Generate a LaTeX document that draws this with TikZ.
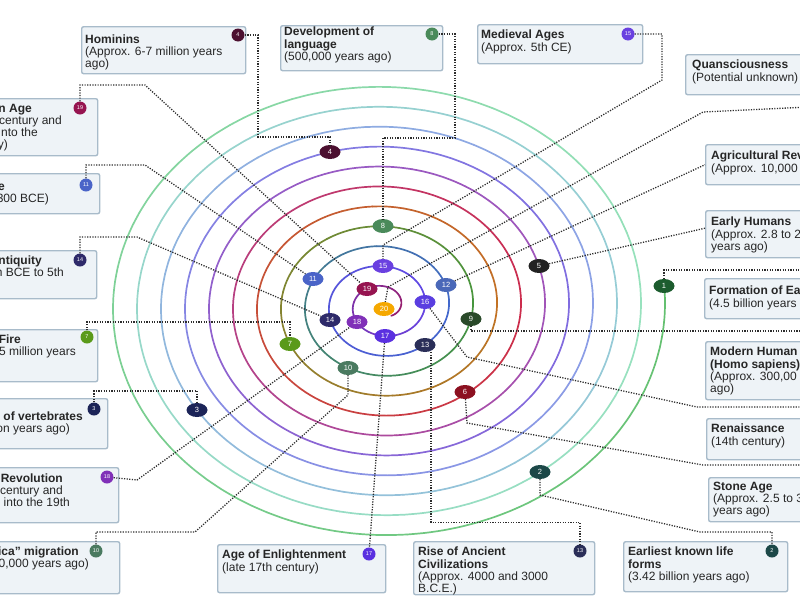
\documentclass[tikz,border=0pt]{standalone}
\usepackage{fontspec}
\setmainfont{Liberation Sans}
\usetikzlibrary{shapes.geometric,calc}
\definecolor{cardfill}{RGB}{238,243,247}
\definecolor{cardline}{RGB}{168,187,202}
\definecolor{linkc}{RGB}{45,45,45}
\definecolor{r0}{RGB}{100,192,112}
\definecolor{r1}{RGB}{152,226,190}
\definecolor{r2}{RGB}{150,204,214}
\definecolor{r3}{RGB}{140,160,230}
\definecolor{r4}{RGB}{128,108,224}
\definecolor{r5}{RGB}{162,84,184}
\definecolor{r6}{RGB}{204,44,76}
\definecolor{r7}{RGB}{194,114,36}
\definecolor{r8}{RGB}{70,150,62}
\definecolor{r9}{RGB}{66,104,204}
\definecolor{r10}{RGB}{100,70,230}
\definecolor{r11}{RGB}{150,30,110}
\definecolor{c1}{RGB}{28,92,46}
\definecolor{c2}{RGB}{28,72,72}
\definecolor{c3}{RGB}{28,36,88}
\definecolor{c4}{RGB}{76,16,48}
\definecolor{c5}{RGB}{34,34,34}
\definecolor{c6}{RGB}{140,16,32}
\definecolor{c7}{RGB}{90,154,26}
\definecolor{c8}{RGB}{74,138,90}
\definecolor{c9}{RGB}{42,74,42}
\definecolor{c10}{RGB}{74,122,96}
\definecolor{c11}{RGB}{74,100,200}
\definecolor{c12}{RGB}{74,104,184}
\definecolor{c13}{RGB}{42,46,88}
\definecolor{c14}{RGB}{46,42,106}
\definecolor{c15}{RGB}{106,64,224}
\definecolor{c16}{RGB}{90,62,224}
\definecolor{c17}{RGB}{90,48,224}
\definecolor{c18}{RGB}{128,48,184}
\definecolor{c19}{RGB}{150,20,80}
\definecolor{c20}{RGB}{245,168,0}
\tikzstyle{card}=[draw=cardline, fill=cardfill, line width=1.4pt, rounded corners=2pt, inner sep=0pt, anchor=north west]
\tikzstyle{txt}=[inner sep=0pt, anchor=north west, align=left, font=\fontsize{12}{12.2}\selectfont, text=black!85]
\tikzstyle{frag}=[inner sep=0pt, anchor=base east, font=\fontsize{12}{12}\selectfont, text=black!85]
\tikzstyle{spot}=[ellipse, minimum width=21pt, minimum height=14pt, inner sep=0pt, text=white, font=\fontsize{7.5}{7.5}\selectfont]
\tikzstyle{badge}=[circle, minimum size=13pt, inner sep=0pt, text=white, font=\fontsize{5.5}{5.5}\selectfont]
\tikzstyle{link}=[linkc, line width=1.3pt, dash pattern=on 1.2pt off 1.4pt]

\begin{document}
\begin{tikzpicture}[x=1pt, y=-1pt]
	\useasboundingbox (0,0) rectangle (800,600);
	\clip (0,0) rectangle (800,600);

	\foreach \k/\ca/\cb/\m in {0/r0/r1/23, 1/r1/r2/23, 2/r2/r3/23, 3/r3/r4/23, 4/r4/r5/23, 5/r5/r6/23, 6/r6/r7/23, 7/r7/r8/23, 8/r8/r9/23, 9/r9/r10/23, 10/r10/r11/23, 11/r11/r11/3} {
		\foreach \j in {0,...,\m} {
			\pgfmathsetmacro{\ta}{\k*360+\j*15-5}
			\pgfmathsetmacro{\tb}{\ta+15}
			\pgfmathtruncatemacro{\pc}{100-\j*100/24}
			\draw[line width=1.7pt, line cap=round, color=\ca!\pc!\cb] plot[domain=\ta:\tb, samples=5, smooth] ({383+(282-\x/15)*cos(\x)}, {306+0.83*(282-\x/15)*sin(\x)});
		}
	}

	\node[spot, fill=c1] (n1) at (664,286) {1};
	\node[spot, fill=c2] (n2) at (540,472) {2};
	\node[spot, fill=c3] (n3) at (197,410) {3};
	\node[spot, fill=c4] (n4) at (330,152) {4};
	\node[spot, fill=c5] (n5) at (539,266) {5};
	\node[spot, fill=c6] (n6) at (465,392) {6};
	\node[spot, fill=c7] (n7) at (290,344) {7};
	\node[spot, fill=c8] (n8) at (383,226) {8};
	\node[spot, fill=c9] (n9) at (471,319) {9};
	\node[spot, fill=c10] (n10) at (348,368) {10};
	\node[spot, fill=c11] (n11) at (313,279) {11};
	\node[spot, fill=c12] (n12) at (446,285) {12};
	\node[spot, fill=c13] (n13) at (425,345) {13};
	\node[spot, fill=c14] (n14) at (330,320) {14};
	\node[spot, fill=c15] (n15) at (383,266) {15};
	\node[spot, fill=c16] (n16) at (425,302) {16};
	\node[spot, fill=c17] (n17) at (385,336) {17};
	\node[spot, fill=c18] (n18) at (357,322) {18};
	\node[spot, fill=c19] (n19) at (367,289) {19};
	\node[spot, fill=c20] (n20) at (384,309) {20};

	\node[card, minimum width=164pt, minimum height=47pt] (hom) at (81,26) {};
	\node[txt] (homt) at (85,34.5) {\textbf{Hominins}\\(Approx. 6-7 million years\\ago)};
	\node[card, minimum width=162pt, minimum height=45pt] (lang) at (280,25) {};
	\node[txt] (langt) at (284,27) {\textbf{Development of}\\\textbf{language}\\(500,000 years ago)};
	\node[card, minimum width=165pt, minimum height=39pt] (med) at (477,24) {};
	\node[txt] (medt) at (481,30) {\textbf{Medieval Ages}\\(Approx. 5th CE)};
	\node[card, minimum width=140pt, minimum height=40pt] (qua) at (685,54) {};
	\node[txt] (quat) at (692,60) {\textbf{Quansciousness}\\(Potential unknown)};
	\node[card, minimum width=120pt, minimum height=40pt] (agr) at (705,144) {};
	\node[txt] (agrt) at (711,151) {\textbf{Agricultural Rev}\\(Approx. 10,000};
	\node[card, minimum width=120pt, minimum height=47pt] (ear) at (705,210) {};
	\node[txt] (eart) at (711,217) {\textbf{Early Humans}\\(Approx. 2.8 to 2\\years ago)};
	\node[card, minimum width=120pt, minimum height=40pt] (frm) at (704,278) {};
	\node[txt] (frmt) at (709,286) {\textbf{Formation of Ea}\\(4.5 billion years};
	\node[card, minimum width=120pt, minimum height=58pt] (mod) at (705,341) {};
	\node[txt] (modt) at (710,347) {\textbf{Modern Human}\\\textbf{(Homo sapiens)}\\(Approx. 300,00\\ago)};
	\node[card, minimum width=120pt, minimum height=41pt] (ren) at (706,418) {};
	\node[txt] (rent) at (711,424) {\textbf{Renaissance}\\(14th century)};
	\node[card, minimum width=120pt, minimum height=44pt] (sto) at (708,477) {};
	\node[txt] (stot) at (713,482) {\textbf{Stone Age}\\(Approx. 2.5 to 3\\years ago)};
	\node[card, minimum width=164pt, minimum height=50pt] (ekl) at (623,541) {};
	\node[txt] (eklt) at (628,547) {\textbf{Earliest known life}\\\textbf{forms}\\(3.42 billion years ago)};
	\node[card, minimum width=168pt, minimum height=48pt] (enl) at (217,544) {};
	\node[txt] (enlt) at (222,550) {\textbf{Age of Enlightenment}\\(late 17th century)};
	\node[card, minimum width=181pt, minimum height=53pt] (ris) at (413,541) {};
	\node[txt] (rist) at (418,547) {\textbf{Rise of Ancient}\\\textbf{Civilizations}\\(Approx. 4000 and 3000\\B.C.E.)};

	\node[card, minimum width=157pt, minimum height=57pt] (inf) at (-60,98) {};
	\node[frag] (inf1) at (32,112) {\textbf{n Age}};
	\node[frag] (inf2) at (62,124) {century and};
	\node[frag] (inf3) at (38,136) {nto the};
	\node[frag] (inf4) at (8,148) {y)};
	\node[card, minimum width=159pt, minimum height=40pt] (iro) at (-60,173) {};
	\node[frag] (iro1) at (5,190) {\textbf{e}};
	\node[frag] (iro2) at (49,202) {300 BCE)};
	\node[card, minimum width=156pt, minimum height=48pt] (ant) at (-60,250) {};
	\node[frag] (ant1) at (42,264) {\textbf{ntiquity}};
	\node[frag] (ant2) at (64,276) {n BCE to 5th};
	\node[card, minimum width=157pt, minimum height=52pt] (fir) at (-60,329) {};
	\node[frag] (fir1) at (21,343) {\textbf{Fire}};
	\node[frag] (fir2) at (76,355) {5 million years};
	\node[card, minimum width=167pt, minimum height=50pt] (ver) at (-60,398) {};
	\node[frag] (ver1) at (83,420) {\textbf{of vertebrates}};
	\node[frag] (ver2) at (70,432) {on years ago)};
	\node[card, minimum width=178pt, minimum height=55pt] (ind) at (-60,467) {};
	\node[frag] (ind1) at (63,482) {\textbf{Revolution}};
	\node[frag] (ind2) at (63,494) {century and};
	\node[frag] (ind3) at (70,506) {into the 19th};
	\node[card, minimum width=179pt, minimum height=52pt] (afr) at (-60,541) {};
	\node[frag] (afr1) at (79,555) {\textbf{ica” migration}};
	\node[frag] (afr2) at (89,567) {0,000 years ago)};

	\node[badge, fill=c4] (b4) at (238,35) {4};
	\node[badge, fill=c8] (b8) at (432,34) {8};
	\node[badge, fill=c15] (b15) at (628,34) {15};
	\node[badge, fill=c2] (b2) at (772,551) {2};
	\node[badge, fill=c17] (b17) at (369,554) {17};
	\node[badge, fill=c13] (b13) at (580,551) {13};
	\node[badge, fill=c19] (b19) at (80,108) {19};
	\node[badge, fill=c11] (b11) at (86,185) {11};
	\node[badge, fill=c14] (b14) at (80,260) {14};
	\node[badge, fill=c7] (b7) at (87,337) {7};
	\node[badge, fill=c3] (b3) at (94,409) {3};
	\node[badge, fill=c18] (b18) at (107,477) {18};
	\node[badge, fill=c10] (b10) at (96,551) {10};

	\coordinate (q20) at (830,106);
	\coordinate (q1) at (830,270);
	\coordinate (q9) at (830,331);
	\coordinate (q16) at (830,407);
	\coordinate (q6) at (830,465);

	\draw[link] (b19) -- (80,85) -- (145,85) -- (n19);
	\draw[link] (b11) -- (86,165) -- (145,165) -- (n11);
	\draw[link] (b14) -- (80,237) -- (137,237) -- (n14);
	\draw[link] (b7) -- (87,322) -| (n7);
	\draw[link] (b3) -- (94,391) -| (n3);
	\draw[link] (b18) -- (137,480) -- (n18);
	\draw[link] (b10) -- (96,532) -- (195,532) -- (348,395) -- (n10);
	\draw[link] (b4) -| (258,137) -| (n4);
	\draw[link] (b8) -| (455,138) -| (n8);
	\draw[link] (b15) -| (662,80) -- (383,245) -- (n15);
	\draw[link] (q20) -- (703,112) -- (388,287) -- (n20);
	\draw[link] (n12) -- (agr.west);
	\draw[link] (n5) -- ([yshift=6pt]ear.west);
	\draw[link] (n1) |- (q1);
	\draw[link] (n9) |- (q9);
	\draw[link] (n16) -- (467,357) -- (697,407) -- (q16);
	\draw[link] (n6) -- (467,423) -- (703,465) -- (q6);
	\draw[link] (n2) -- (540,495) -- (700,532) -| (b2);
	\draw[link] (n17) -- (b17);
	\draw[link] ([xshift=6pt]n13.south) -- ++(0,170) -| (b13);

\end{tikzpicture}
\end{document}
